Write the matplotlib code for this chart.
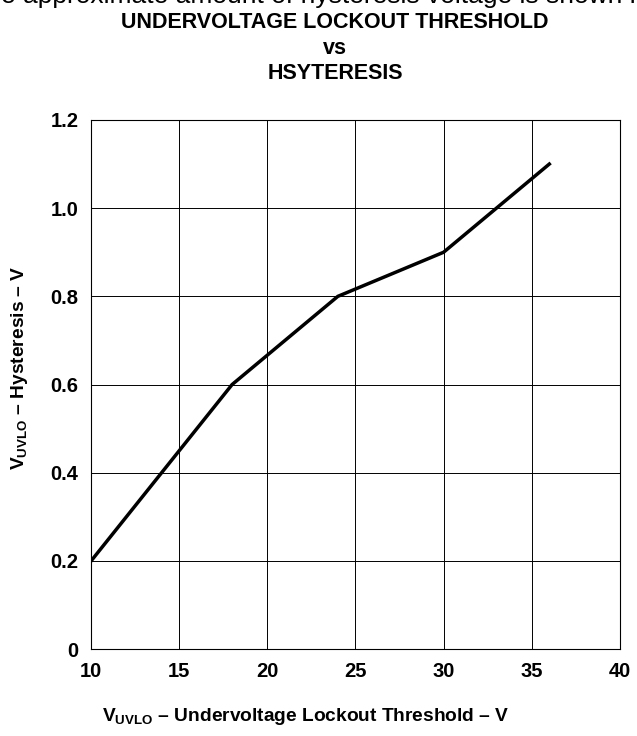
import matplotlib
matplotlib.use('Agg')
import matplotlib.pyplot as plt

# Datos
threshold = [10, 18, 24, 30, 36]
hysteresis = [0.2, 0.6, 0.8, 0.9, 1.1]
x_ticks = [10, 15, 20, 25, 30, 35, 40]
y_ticks = [0, 0.2, 0.4, 0.6, 0.8, 1.0, 1.2]
y_labels = ['0', '0.2', '0.4', '0.6', '0.8', '1.0', '1.2']

plt.rcParams['font.family'] = 'Liberation Sans'
plt.rcParams['mathtext.fontset'] = 'custom'
plt.rcParams['mathtext.rm'] = 'Liberation Sans:bold'
plt.rcParams['mathtext.bf'] = 'Liberation Sans:bold'
plt.rcParams['mathtext.it'] = 'Liberation Sans:bold'

fig = plt.figure(figsize=(6.37, 7.36), dpi=100)
ax = fig.add_axes([0.143, 0.118, 0.830, 0.719])

ax.plot(threshold, hysteresis, color='black', linewidth=2.5, solid_joinstyle='miter')

ax.set_xlim(10, 40)
ax.set_ylim(0, 1.2)
ax.set_xticks(x_ticks)
ax.set_yticks(y_ticks)
ax.set_yticklabels(y_labels)
ax.grid(True, color='black', linewidth=0.7)
ax.tick_params(length=0, labelsize=14.5)
ax.tick_params(axis='x', pad=9)
ax.tick_params(axis='y', pad=9)
for lab in ax.get_xticklabels() + ax.get_yticklabels():
    lab.set_fontweight('bold')
for s in ax.spines.values():
    s.set_linewidth(0.8)

# Texto cortado arriba (tambien cortado en la original)
fig.text(0.5, 0.9955, 'e approximate amount of hysteresis voltage is shown i',
         ha='center', va='baseline', fontsize=19)

fig.text(0.526, 0.970, 'UNDERVOLTAGE LOCKOUT THRESHOLD', ha='center', va='center',
         fontsize=15.5, fontweight='bold')
fig.text(0.526, 0.934, 'vs', ha='center', va='center', fontsize=15.5, fontweight='bold')
fig.text(0.526, 0.900, 'HSYTERESIS', ha='center', va='center', fontsize=15.5, fontweight='bold')

fig.text(0.48, 0.027, r'$\mathbf{V_{UVLO}}$ – Undervoltage Lockout Threshold – V',
         ha='center', va='center', fontsize=13.8, fontweight='bold')
fig.text(0.031, 0.500, r'$\mathbf{V_{UVLO}}$ – Hysteresis – V', rotation=90,
         ha='center', va='center', fontsize=13.8, fontweight='bold')

fig.savefig('out.png', dpi=100)
